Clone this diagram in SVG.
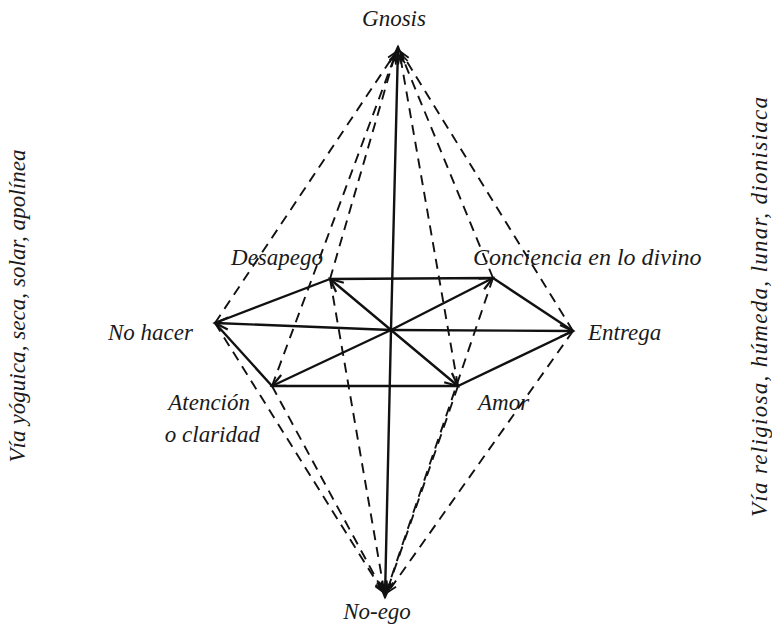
<svg xmlns="http://www.w3.org/2000/svg" width="772" height="630" viewBox="0 0 772 630">
<style>
.t{font-family:"Liberation Serif","Times New Roman",serif;font-style:italic;font-size:23px;fill:#1a1a1a}
.s{stroke:#111;stroke-width:2.4;fill:none;stroke-linecap:round}
.d{stroke:#111;stroke-width:1.9;fill:none;stroke-dasharray:10 7}
.ah{stroke:#111;stroke-width:2.2;fill:none;stroke-linejoin:miter}
</style>
<defs>
<marker id="arr" markerUnits="userSpaceOnUse" markerWidth="18" markerHeight="18" viewBox="0 0 18 18" refX="16" refY="9" orient="auto" overflow="visible">
<path class="ah" d="M3,3 L16,9 L3,15"/>
</marker>
<marker id="arrd" markerUnits="userSpaceOnUse" markerWidth="14" markerHeight="14" viewBox="0 0 14 14" refX="12" refY="7" orient="auto" overflow="visible">
<path class="ah" d="M3,3.5 L12,7 L3,10.5" style="stroke-width:1.8"/>
</marker>
</defs>
<g id="connectors">
<g id="dashed">
<line class="d" x1="215" y1="323" x2="396" y2="52" marker-end="url(#arrd)"/>
<line class="d" x1="330" y1="279" x2="395" y2="55" marker-end="url(#arrd)"/>
<line class="d" x1="272" y1="386" x2="396" y2="53" marker-end="url(#arrd)"/>
<line class="d" x1="458" y1="386" x2="400" y2="55" marker-end="url(#arrd)"/>
<line class="d" x1="493" y1="278" x2="401" y2="54" marker-end="url(#arrd)"/>
<line class="d" x1="573" y1="331" x2="401" y2="52" marker-end="url(#arrd)"/>
<line class="d" x1="215" y1="323" x2="383" y2="592" marker-end="url(#arrd)"/>
<line class="d" x1="330" y1="279" x2="384" y2="590" marker-end="url(#arrd)"/>
<line class="d" x1="272" y1="386" x2="383" y2="591" marker-end="url(#arrd)"/>
<line class="d" x1="458" y1="386" x2="387" y2="591" marker-end="url(#arrd)"/>
<line class="d" x1="493" y1="278" x2="387" y2="590" marker-end="url(#arrd)"/>
<line class="d" x1="573" y1="331" x2="388" y2="592" marker-end="url(#arrd)"/>
</g>
<g id="hexagon">
<polygon class="s" points="330,279 493,278 573,331 458,386 272,386 215,323" stroke-linejoin="round"/>
</g>
<g id="radial">
<line class="s" x1="391" y1="330" x2="398" y2="47" marker-end="url(#arr)"/>
<line class="s" x1="391" y1="330" x2="385" y2="597" marker-end="url(#arr)"/>
<line class="s" x1="391" y1="330" x2="215" y2="323" marker-end="url(#arr)"/>
<line class="s" x1="391" y1="330" x2="573" y2="331" marker-end="url(#arr)"/>
<line class="s" x1="391" y1="330" x2="330" y2="279" marker-end="url(#arr)"/>
<line class="s" x1="391" y1="330" x2="458" y2="386" marker-end="url(#arr)"/>
<line class="s" x1="391" y1="330" x2="493" y2="278" marker-end="url(#arr)"/>
<line class="s" x1="391" y1="330" x2="272" y2="386" marker-end="url(#arr)"/>
</g>
</g>
<g id="gnosis"><text class="t" x="394" y="26" text-anchor="middle">Gnosis</text></g>
<g id="noego"><text class="t" x="377" y="619" text-anchor="middle">No-ego</text></g>
<g id="desapego"><text class="t" x="323" y="265" text-anchor="end">Desapego</text></g>
<g id="conciencia"><text class="t" x="473" y="265" style="font-size:24px">Conciencia en lo divino</text></g>
<g id="nohacer"><text class="t" x="193" y="340" text-anchor="end">No hacer</text></g>
<g id="entrega"><text class="t" x="588" y="340">Entrega</text></g>
<g id="atencion"><text class="t" x="250" y="410" text-anchor="end">Atención</text><text class="t" x="260" y="442" text-anchor="end">o claridad</text></g>
<g id="amor"><text class="t" x="478" y="410">Amor</text></g>
<g id="via-yoguica"><text class="t" transform="translate(25,306) rotate(-90)" text-anchor="middle" textLength="313">Vía yóguica, seca, solar, apolínea</text></g>
<g id="via-religiosa"><text class="t" transform="translate(767,307) rotate(-90)" text-anchor="middle" textLength="420">Vía religiosa, húmeda, lunar, dionisiaca</text></g>
</svg>
